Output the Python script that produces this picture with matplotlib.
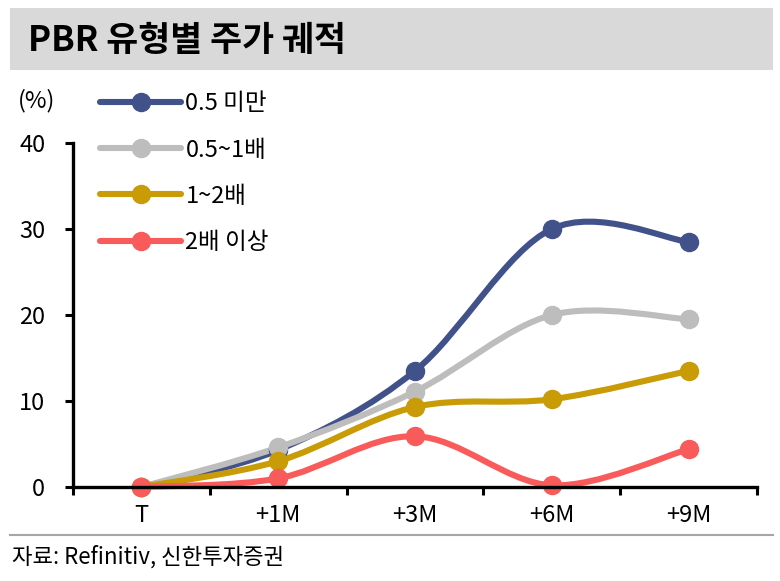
# PBR 유형별 주가 궤적

# Importing libraries
import matplotlib
matplotlib.use('Agg')
import matplotlib.pyplot as plt
from matplotlib.path import Path
from matplotlib.patches import PathPatch, Rectangle
from matplotlib.lines import Line2D

plt.rcParams['font.family'] = ['Noto Sans CJK KR', 'DejaVu Sans']

# Data
periods = ['T', '+1M', '+3M', '+6M', '+9M']
pbr_under_05 = [0.0, 4.3, 13.5, 30.0, 28.5]
pbr_05_to_1 = [0.0, 4.6, 11.1, 20.0, 19.5]
pbr_1_to_2 = [0.0, 3.0, 9.3, 10.2, 13.5]
pbr_over_2 = [0.0, 1.0, 5.9, 0.2, 4.4]

series_names = ['0.5 미만', '0.5~1배', '1~2배', '2배 이상']
series_values = [pbr_under_05, pbr_05_to_1, pbr_1_to_2, pbr_over_2]
series_colors = ['#41518a', '#bdbdbd', '#c99b06', '#f95a5a']
y_ticks = [0, 10, 20, 30, 40]


def smooth_path(xs, ys):
    """Builds an Excel-like smoothed bezier path through the points."""
    pts = list(zip(xs, ys))
    n = len(pts)
    verts = [pts[0]]
    codes = [Path.MOVETO]
    for i in range(n - 1):
        p0 = pts[i - 1] if i > 0 else pts[i]
        p1 = pts[i]
        p2 = pts[i + 1]
        p3 = pts[i + 2] if i + 2 < n else pts[i + 1]
        c1 = (p1[0] + (p2[0] - p0[0]) / 6, p1[1] + (p2[1] - p0[1]) / 6)
        c2 = (p2[0] - (p3[0] - p1[0]) / 6, p2[1] - (p3[1] - p1[1]) / 6)
        verts += [c1, c2, p2]
        codes += [Path.CURVE4] * 3
    return Path(verts, codes)


fig = plt.figure(figsize=(7.8, 5.81), dpi=100)

# Title bar
fig.patches.append(Rectangle((10 / 780, 1 - 70 / 581), 763 / 780, 62 / 581,
                             transform=fig.transFigure, facecolor='#d9d9d9',
                             edgecolor='none', zorder=0))
fig.text(28 / 780, 1 - 41 / 581, 'PBR 유형별 주가 궤적', fontsize=25,
         fontweight='bold', va='center', ha='left')

ax = fig.add_axes([73 / 780, 1 - 487 / 581, 684 / 780, 344 / 581])
x = list(range(len(periods)))

handles = []
for name, vals, col in zip(series_names, series_values, series_colors):
    patch = PathPatch(smooth_path(x, vals), facecolor='none', edgecolor=col,
                      linewidth=4.4, capstyle='round', joinstyle='round',
                      transform=ax.transData, clip_on=False)
    ax.add_patch(patch)
    ax.plot(x, vals, 'o', color=col, markersize=13, clip_on=False)
    handles.append(Line2D([], [], color=col, linewidth=4.4, marker='o',
                          markersize=13, solid_capstyle='round'))

ax.set_xlim(-0.5, len(periods) - 0.5)
ax.set_ylim(0, 40)
ax.set_yticks(y_ticks)
ax.set_xticks(x)
ax.set_xticklabels(periods)
ax.set_xticks([i + 0.5 for i in range(-1, len(periods))], minor=True)
ax.tick_params(axis='x', which='major', length=0, labelsize=17, pad=12)
ax.tick_params(axis='x', which='minor', length=6, width=2.2, direction='out')
ax.tick_params(axis='y', length=6, width=2.2, labelsize=17, pad=14)

for side in ['top', 'right']:
    ax.spines[side].set_visible(False)
ax.spines['left'].set_linewidth(2.4)
ax.spines['bottom'].set_linewidth(2.4)

fig.text(18 / 780, 1 - 101 / 581, '(%)', fontsize=17, va='center', ha='left')

ax.legend(handles, series_names, loc='upper left',
          bbox_to_anchor=(91 / 780, 1 - 83 / 581),
          bbox_transform=fig.transFigure, frameon=False, fontsize=17,
          handlelength=3.4, handletextpad=0.2, labelspacing=0.98,
          borderaxespad=0)

# Source line
fig.add_artist(Line2D([10 / 780, 773 / 780], [1 - 535 / 581, 1 - 535 / 581],
                      transform=fig.transFigure, color='#a6a6a6', linewidth=1.5))
fig.text(12 / 780, 1 - 557 / 581, '자료: Refinitiv, 신한투자증권', fontsize=16,
         va='center', ha='left')

fig.savefig('out.png', dpi=100)
